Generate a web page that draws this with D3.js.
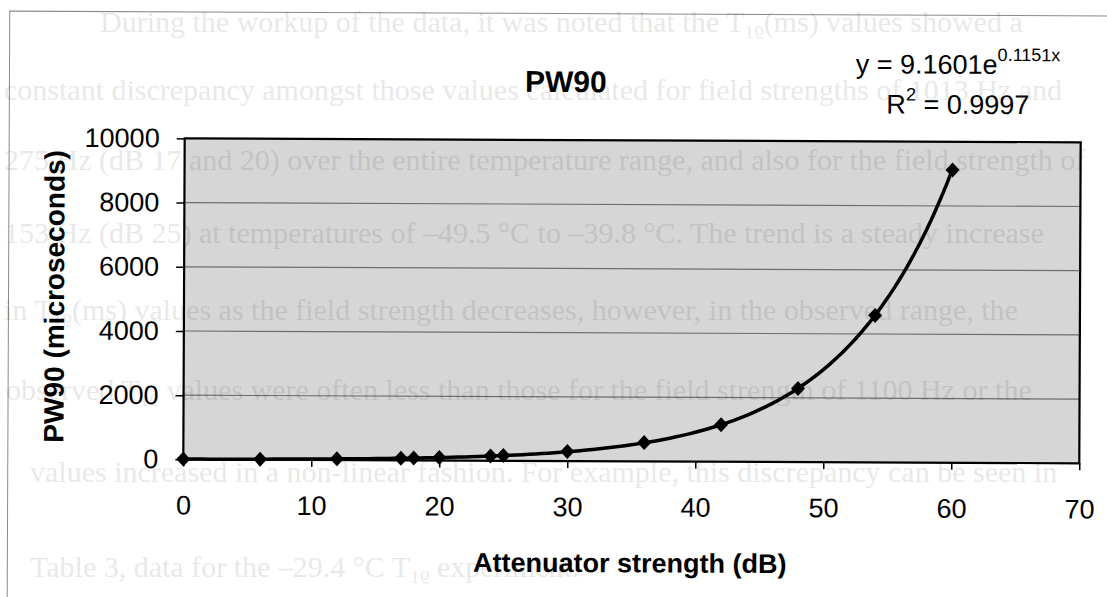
<!DOCTYPE html>
<meta charset="utf-8">
<style>
body { margin: 0; background: #fff; }
.tick text { font-family: "Liberation Sans", Arial, sans-serif; font-size: 27px; fill: #000; }
.tick line { stroke: #000; stroke-width: 1.5; }
.label { font-family: "Liberation Sans", Arial, sans-serif; fill: #000; }
.bleed { font-family: "Liberation Serif", "Times New Roman", serif; font-size: 30px; fill: #000; opacity: 0.085; }
</style>
<body>
<script src="https://d3js.org/d3.v7.min.js"></script>
<script>

// data
var attenuation = [0, 6, 12, 17, 18, 20, 24, 25, 30, 36, 42, 48, 54, 60];
var pw90 = [9, 18, 37, 65, 73, 92, 145, 163, 295, 585, 1150, 2290, 4580, 9120];
var xTicks = [0, 10, 20, 30, 40, 50, 60, 70];
var yTicks = [0, 2000, 4000, 6000, 8000, 10000];
var fitA = 9.1601, fitB = 0.1151, fitR2 = "0.9997";

// faint page text showing through the scan
var pageLines = [
  "During the workup of the data, it was noted that the T\u2081\u1D68(ms) values showed a",
  "constant discrepancy amongst those values calculated for field strengths of 1013 Hz and",
  "275 Hz (dB 17 and 20) over the entire temperature range, and also for the field strength of",
  "153 Hz (dB 25) at temperatures of \u201349.5 \u00B0C to \u201339.8 \u00B0C. The trend is a steady increase",
  "in T\u2081\u1D68(ms) values as the field strength decreases, however, in the observed range, the",
  "observed T\u2081\u1D68 values were often less than those for the field strength of 1100 Hz or the",
  "values increased in a non-linear fashion. For example, this discrepancy can be seen in",
  "Table 3, data for the \u201329.4 \u00B0C T\u2081\u1D68 experiment."
];
var pageX = [100, 4, 4, 4, 4, 6, 30, 30];
var pageY = [32, 100, 170, 243, 320, 400, 482, 577];

var W = 1107, H = 597;
var plot = {left: 184, right: 1080, top: 140, bottom: 461};

var x = d3.scaleLinear().domain([0, 70]).range([plot.left, plot.right]);
var y = d3.scaleLinear().domain([0, 10000]).range([plot.bottom, plot.top]);

var svg = d3.select("body").append("svg")
    .attr("width", W)
    .attr("height", H);

svg.append("rect").attr("width", W).attr("height", H).attr("fill", "#fff");

var chart = svg.append("g")
    .attr("transform", "rotate(0.25," + (W/2) + "," + (H/2) + ")");

// outer chart area border
chart.append("rect")
    .attr("x", 8.5).attr("y", 13.5)
    .attr("width", 1300).attr("height", 800)
    .attr("fill", "none")
    .attr("stroke", "#8a8a8a");

// plot area
chart.append("rect")
    .attr("x", plot.left).attr("y", plot.top)
    .attr("width", plot.right - plot.left)
    .attr("height", plot.bottom - plot.top)
    .attr("fill", "#d6d6d6");

svg.append("g").selectAll("text")
    .data(pageLines)
    .enter().append("text")
      .attr("class", "bleed")
      .attr("x", function(d, i) { return pageX[i]; })
      .attr("y", function(d, i) { return pageY[i]; })
      .text(function(d) { return d; });

// gridlines
chart.append("g").selectAll("line")
    .data(yTicks.slice(1, -1))
    .enter().append("line")
      .attr("x1", plot.left).attr("x2", plot.right)
      .attr("y1", function(d) { return y(d); })
      .attr("y2", function(d) { return y(d); })
      .attr("stroke", "#6e6e6e")
      .attr("stroke-width", 1.2);

// axes
var yAxis = chart.append("g")
    .attr("transform", "translate(" + plot.left + ",0)")
    .call(d3.axisLeft(y).tickValues(yTicks).tickSize(8).tickPadding(17).tickFormat(d3.format("d")));
yAxis.select(".domain").remove();

var xAxis = chart.append("g")
    .attr("transform", "translate(0," + plot.bottom + ")")
    .call(d3.axisBottom(x).tickValues(xTicks).tickSize(7).tickPadding(29).tickFormat(d3.format("d")));
xAxis.select(".domain").remove();

// plot border
chart.append("rect")
    .attr("x", plot.left).attr("y", plot.top)
    .attr("width", plot.right - plot.left)
    .attr("height", plot.bottom - plot.top)
    .attr("fill", "none")
    .attr("stroke", "#000")
    .attr("stroke-width", 2.2);

var pts = attenuation.map(function(a, i) { return [a, pw90[i]]; });

// exponential trendline from the fitted equation
var trend = d3.range(0, 60.01, 0.5).map(function(t) { return [t, fitA * Math.exp(fitB * t)]; });
chart.append("path")
    .datum(trend)
    .attr("fill", "none")
    .attr("stroke", "#000")
    .attr("stroke-width", 3.5)
    .attr("d", d3.line().x(function(d) { return x(d[0]); }).y(function(d) { return y(d[1]); }));

// diamond markers
chart.append("g").selectAll("path")
    .data(pts)
    .enter().append("path")
      .attr("transform", function(d) { return "translate(" + x(d[0]) + "," + y(d[1]) + ")"; })
      .attr("d", "M0,-7.5L7,0L0,7.5L-7,0Z")
      .attr("fill", "#000");

// title
chart.append("text")
    .attr("class", "label")
    .attr("x", 565).attr("y", 92)
    .style("text-anchor", "middle")
    .style("font-size", "30px")
    .style("font-weight", "bold")
    .text("PW90");

// axis titles
chart.append("text")
    .attr("class", "label")
    .attr("x", 631).attr("y", 572)
    .style("text-anchor", "middle")
    .style("font-size", "27px")
    .style("font-weight", "bold")
    .text("Attenuator strength (dB)");

chart.append("text")
    .attr("class", "label")
    .attr("transform", "translate(64," + ((plot.top + plot.bottom) / 2 - 2) + ") rotate(-90)")
    .style("text-anchor", "middle")
    .style("font-size", "28px")
    .style("font-weight", "bold")
    .text("PW90 (microseconds)");

// trendline equation
var eq = chart.append("text")
    .attr("class", "label")
    .attr("x", 957).attr("y", 72)
    .style("text-anchor", "middle")
    .style("font-size", "27px");
eq.append("tspan").text("y = " + fitA.toFixed(4) + "e");
eq.append("tspan").attr("dy", -13).style("font-size", "18px").text(fitB + "x");

var r2 = chart.append("text")
    .attr("class", "label")
    .attr("x", 957).attr("y", 112)
    .style("text-anchor", "middle")
    .style("font-size", "27px");
r2.append("tspan").text("R");
r2.append("tspan").attr("dy", -13).style("font-size", "18px").text("2");
r2.append("tspan").attr("dy", 13).text(" = " + fitR2);

</script>
</body>
